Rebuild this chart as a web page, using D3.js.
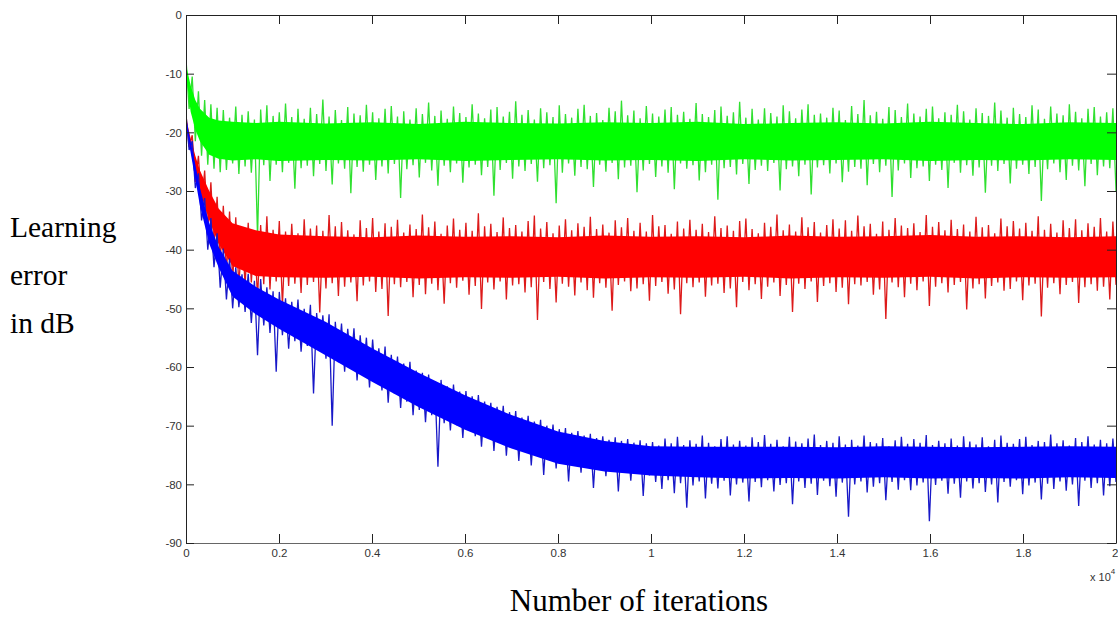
<!DOCTYPE html>
<html>
<head>
<meta charset="utf-8">
<script src="https://cdn.jsdelivr.net/npm/d3@7"></script>
<style>
  body { margin: 0; background: #fff; }
  svg { display: block; }
  .tick text { font-family: Arial, "Liberation Sans", sans-serif; font-size: 11.5px; }
  .side-label { font-family: "Times New Roman", "Liberation Serif", serif; fill: #000; }
</style>
</head>
<body>
<svg width="1118" height="619"></svg>
<script>
// dense core of each curve, sampled at these iterations (x 10^4)
const coreX = [0, 0.01, 0.02, 0.03, 0.05, 0.07, 0.1, 0.15, 0.2, 0.3, 0.4, 0.5, 0.6, 0.7,
  0.8, 0.9, 1.0, 1.1, 1.2, 1.3, 1.4, 1.5, 1.6, 1.7, 1.8, 1.9, 2.0];

const greenCoreHi = [-8.5, -12, -14.5, -16, -17.5, -18, -18.2, -18.4, -18.2, -18.5, -18.3, -18.6, -18.2, -18.4,
  -18.5, -18.3, -18.4, -18.2, -18.6, -18.4, -18.3, -18.5, -18.2, -18.4, -18.6, -18.3, -18.4];
const greenCoreLo = [-10, -16.5, -19.5, -21.5, -23.8, -24.5, -24.8, -24.6, -24.9, -24.7, -24.8, -24.6, -24.9, -24.7,
  -24.6, -24.8, -24.7, -24.9, -24.6, -24.8, -24.7, -24.6, -24.9, -24.7, -24.8, -24.6, -24.7];
const redCoreHi = [-17.5, -21, -24, -26.5, -30, -33, -35.5, -36.7, -37.4, -37.7, -37.9, -37.6, -37.8, -37.7,
  -37.9, -37.6, -37.8, -37.7, -37.9, -37.6, -37.8, -37.7, -37.5, -37.8, -37.7, -37.9, -37.7];
const redCoreLo = [-18.5, -23, -27, -30, -35, -39, -42.8, -44.5, -44.7, -44.8, -44.6, -44.9, -44.7, -44.8,
  -44.6, -44.9, -44.7, -44.8, -44.6, -44.9, -44.7, -44.8, -44.6, -44.9, -44.7, -44.8, -44.7];
const blueCoreHi = [-17.5, -21.5, -25.5, -29.5, -35.5, -39.5, -43.6, -46.3, -48.5, -52.3, -56.8, -61.0, -64.8, -68.2,
  -71.0, -72.6, -73.5, -73.6, -73.6, -73.6, -73.7, -73.5, -73.6, -73.7, -73.6, -73.5, -73.6];
const blueCoreLo = [-18.5, -23.5, -28, -32.5, -39, -43, -48, -51, -53.5, -58, -62.5, -66.8, -70.7, -73.9,
  -76.5, -77.8, -78.5, -78.8, -79, -78.9, -79, -78.8, -79, -78.9, -79, -78.8, -78.9];

// noisy trace, 300 evenly spaced samples over 0..2 x 10^4 iterations (dB)
const greenTrace = [-7.5, -16, -10.5, -21.5, -13, -24, -14.5, -25.5, -15.2, -26.2, -15.8, -26.8,
  -16.2, -26.4, -17.5, -25.3, -15.6, -27.1, -17.0, -25.8, -16.4, -26.9, -17.8, -37.8, -16.1, -25.6, -15.4, -28.3,
  -17.2, -25.5, -16.6, -26.8, -15.1, -25.2, -17.4, -29.6, -16.0, -26.1, -17.7, -25.7, -15.8, -27.5, -16.9, -25.4,
  -14.4, -26.6, -17.3, -28.9, -16.2, -25.3, -17.9, -26.2, -15.7, -30.4, -16.8, -25.9, -17.1, -26.7, -15.3, -25.5,
  -16.6, -28.1, -17.6, -25.8, -16.0, -27.0, -15.5, -25.4, -17.3, -31.2, -16.4, -26.3, -17.8, -25.6, -15.9, -27.7,
  -16.9, -25.2, -14.9, -26.5, -17.2, -29.1, -16.3, -25.7, -17.7, -26.8, -15.6, -25.3, -16.7, -28.6, -17.4, -26.0,
  -15.2, -25.5, -16.8, -27.3, -17.6, -25.9, -16.1, -30.8, -15.7, -26.4, -17.3, -25.2, -16.5, -27.9, -14.7, -25.8,
  -17.0, -26.6, -16.2, -25.4, -17.8, -28.4, -15.9, -26.1, -16.6, -25.6, -17.4, -32.1, -15.4, -26.9, -16.9, -25.3,
  -17.5, -27.4, -16.0, -25.9, -15.3, -26.3, -17.2, -29.3, -16.7, -25.5, -17.9, -26.7, -15.8, -25.2, -16.4, -28.0,
  -14.6, -26.0, -17.1, -25.7, -16.3, -30.2, -17.6, -26.5, -15.5, -25.4, -16.8, -27.6, -17.3, -25.8, -16.1, -26.9,
  -15.7, -29.7, -17.0, -25.3, -16.5, -26.2, -17.7, -25.6, -15.0, -28.2, -16.9, -26.8, -17.4, -25.5, -16.2, -31.5,
  -15.6, -26.1, -17.2, -25.9, -16.6, -27.2, -14.8, -25.4, -17.5, -28.8, -16.0, -26.4, -17.8, -25.7, -15.9, -26.6,
  -16.7, -25.2, -17.3, -29.9, -15.4, -26.3, -16.4, -25.8, -17.6, -27.5, -16.1, -25.5, -15.2, -30.6, -17.0, -26.0,
  -16.8, -25.6, -17.5, -27.0, -15.8, -25.3, -16.3, -28.5, -17.9, -26.7, -15.5, -25.9, -16.9, -26.2, -14.5, -29.0,
  -17.1, -25.4, -16.5, -26.8, -17.7, -25.7, -15.7, -31.0, -16.2, -26.5, -17.4, -25.3, -15.1, -27.8, -16.8, -26.1,
  -17.3, -25.8, -16.0, -28.3, -15.6, -25.5, -17.6, -26.4, -16.6, -29.5, -17.0, -25.2, -15.3, -26.9, -16.4, -25.6,
  -17.8, -27.4, -15.9, -26.0, -16.7, -30.3, -17.2, -25.7, -14.9, -26.6, -16.3, -25.4, -17.5, -28.7, -15.8, -26.2,
  -16.9, -25.5, -17.4, -27.1, -15.4, -25.9, -16.1, -31.7, -17.7, -26.3, -15.6, -25.3, -16.8, -26.8, -17.1, -28.1,
  -15.2, -25.7, -16.5, -26.5, -17.6, -29.2, -16.0, -25.4, -15.7, -27.3, -17.3, -25.8, -16.6, -26.1, -15.9, -30.0];

const redTrace = [-17, -22.5, -20.5, -28.5, -24, -32.5, -26.5, -36.5, -28.5, -39.5, -31, -42, -32.5, -44,
  -33.5, -45.5, -34.5, -46.5,
  -36.2, -46.1, -35.4, -45.6, -37.0, -48.3, -35.8, -45.9, -34.3, -46.8, -36.6, -45.4, -35.1, -49.5, -36.9, -46.2,
  -35.6, -45.8, -37.2, -47.4, -34.8, -46.0, -36.4, -45.5, -35.9, -50.7, -36.8, -46.6, -34.1, -45.7, -36.0, -47.9,
  -35.3, -46.3, -36.7, -45.6, -37.4, -48.8, -35.0, -46.1, -36.3, -45.4, -34.6, -47.2, -36.9, -46.7, -35.5, -51.3,
  -36.1, -45.9, -34.9, -46.4, -37.1, -45.5, -35.7, -48.1, -36.5, -46.0, -34.0, -47.6, -36.2, -45.8, -35.2, -46.9,
  -37.3, -49.2, -35.9, -45.7, -34.7, -46.5, -36.6, -45.3, -35.4, -47.7, -36.8, -46.2, -33.8, -50.1, -36.0, -45.6,
  -35.6, -46.8, -37.0, -45.4, -34.5, -48.5, -36.3, -46.1, -35.8, -45.9, -36.9, -47.3, -35.1, -46.4, -34.2, -52.0,
  -36.4, -45.5, -35.3, -46.7, -37.2, -49.0, -35.9, -45.8, -34.8, -46.3, -36.7, -47.8, -35.5, -45.6, -36.1, -46.9,
  -34.4, -48.2, -36.5, -45.7, -35.7, -46.5, -37.1, -50.4, -35.0, -46.0, -36.2, -45.4, -34.6, -47.1, -36.8, -46.6,
  -35.4, -45.9, -36.9, -48.7, -34.1, -46.2, -36.0, -45.5, -35.8, -47.5, -37.3, -46.8, -35.2, -51.0, -36.4, -45.7,
  -34.9, -46.4, -36.6, -45.6, -35.6, -48.0, -37.0, -46.1, -34.3, -45.8, -36.3, -47.4, -35.9, -46.6, -36.8, -49.8,
  -35.1, -45.5, -34.7, -46.9, -36.5, -45.9, -37.2, -48.4, -35.4, -46.3, -36.1, -45.6, -34.0, -47.9, -36.7, -46.0,
  -35.7, -50.6, -36.9, -45.8, -34.5, -46.7, -36.2, -45.4, -35.3, -48.9, -37.1, -46.2, -35.8, -45.7, -34.8, -47.2,
  -36.4, -46.5, -35.0, -49.3, -36.8, -45.9, -34.2, -46.1, -36.0, -45.5, -35.6, -47.7, -37.3, -46.8, -35.2, -51.8,
  -36.6, -45.6, -34.6, -46.4, -35.9, -48.1, -36.3, -45.8, -35.5, -46.9, -37.0, -45.4, -34.1, -49.6, -36.1, -46.3,
  -35.3, -45.7, -36.7, -47.3, -34.9, -46.0, -36.5, -45.5, -35.7, -50.2, -36.9, -46.6, -34.4, -45.9, -36.2, -48.3,
  -35.8, -46.2, -37.2, -45.6, -34.7, -47.0, -36.0, -46.7, -35.1, -45.4, -36.4, -48.6, -35.4, -46.1, -36.8, -45.8,
  -34.3, -51.4, -36.6, -46.5, -35.6, -45.7, -37.1, -47.6, -35.0, -46.0, -36.3, -45.5, -34.8, -49.1, -36.7, -46.4,
  -35.5, -45.9, -36.1, -47.0, -34.6, -46.3, -36.9, -48.5, -35.2, -46.0];

const blueTrace = [-17, -23, -21.5, -29.5, -27, -35, -31.2, -40, -34.6, -43, -37.2, -46.5, -39.8, -48.5,
  -41.5, -50,
  -43.0, -49.8, -44.2, -50.6, -44.1, -52.5, -45.3, -58.0, -45.0, -52.9, -46.4, -54.2, -47.1, -60.8,
  -47.2, -54.6, -48.3, -56.9, -48.9, -55.6, -48.5, -57.4, -50.1, -56.4, -49.4, -64.5, -50.8, -57.1,
  -51.2, -58.6, -51.0, -70.0, -52.3, -59.2, -52.6, -60.8, -53.5, -59.9, -53.4, -62.3, -54.6, -61.1,
  -55.0, -63.5, -55.3, -62.4, -56.8, -64.0, -56.5, -66.1, -57.9, -64.5, -58.2, -67.0, -59.4, -65.9,
  -59.1, -68.2, -60.6, -67.3, -61.0, -69.4, -61.3, -68.2, -62.4, -77.0, -62.2, -69.6, -63.3, -70.8,
  -63.0, -69.9, -64.2, -72.1, -64.1, -70.7, -65.0, -71.8, -64.8, -73.6, -65.9, -72.0, -66.1, -74.3,
  -66.8, -72.9, -66.6, -75.1, -67.7, -73.5, -67.5, -76.0, -68.6, -74.2, -68.3, -76.8, -69.3, -75.0,
  -69.0, -78.4, -70.0, -75.6, -69.8, -77.3, -70.6, -76.1, -70.4, -79.5, -71.2, -76.5, -70.9, -78.0,
  -71.7, -76.9, -71.4, -80.6, -72.1, -77.2, -71.8, -78.6, -72.4, -77.6, -72.0, -81.2, -72.6, -78.0,
  -72.3, -79.4, -72.9, -78.2, -72.5, -82.0, -73.0, -78.5,
  -72.8, -79.6, -73.4, -80.8, -72.2, -79.3, -73.0, -81.5, -71.9, -79.8, -73.3, -84.0, -72.5, -80.2, -73.1, -79.5,
  -71.7, -82.4, -72.9, -79.9, -73.5, -80.7, -72.3, -79.4, -71.8, -81.9, -73.2, -80.0, -72.6, -79.7, -73.4, -82.9,
  -72.0, -79.6, -72.8, -80.5, -71.6, -79.3, -73.1, -81.2, -72.4, -80.1, -73.5, -79.8, -71.9, -83.4, -72.7, -79.5,
  -73.0, -80.6, -72.2, -79.9, -71.5, -81.8, -73.3, -79.4, -72.6, -80.3, -72.9, -82.1, -71.8, -79.7, -73.2, -85.5,
  -72.4, -80.0, -73.4, -79.5, -71.7, -81.4, -72.8, -80.4, -73.0, -79.8, -72.1, -82.7, -73.5, -79.6, -72.5, -80.9,
  -71.9, -79.3, -73.1, -81.0, -72.3, -80.2, -72.9, -79.7, -71.6, -86.3, -73.3, -80.1, -72.6, -79.4, -73.0, -81.6,
  -72.2, -79.9, -73.4, -82.3, -71.8, -79.5, -72.7, -80.7, -73.2, -79.8, -72.0, -81.3, -73.5, -80.0, -72.4, -83.1,
  -71.7, -79.6, -72.9, -80.4, -73.1, -79.3, -72.3, -81.7, -71.9, -80.2, -73.3, -79.7, -72.6, -82.6, -72.8, -79.9,
  -71.5, -80.8, -73.0, -79.5, -72.5, -81.1, -73.4, -80.0, -72.1, -83.7, -72.8, -79.4, -71.8, -80.6, -73.2, -79.8,
  -72.4, -81.9, -73.0, -80.3, -72.2, -79.6];

const xTicks = [0, 0.2, 0.4, 0.6, 0.8, 1, 1.2, 1.4, 1.6, 1.8, 2];
const yTicks = [0, -10, -20, -30, -40, -50, -60, -70, -80, -90];

const series = [
  { name: 'green', hi: greenCoreHi, lo: greenCoreLo, trace: greenTrace, fill: '#00ff00', edge: '#30e030' },
  { name: 'red', hi: redCoreHi, lo: redCoreLo, trace: redTrace, fill: '#ff0000', edge: '#dd1a1a' },
  { name: 'blue', hi: blueCoreHi, lo: blueCoreLo, trace: blueTrace, fill: '#0000ff', edge: '#1818c8' },
];

const PLOT = { left: 186, right: 1116, top: 15, bottom: 543 };

const x = d3.scaleLinear().domain([0, 2]).range([PLOT.left, PLOT.right]);
const y = d3.scaleLinear().domain([-90, 0]).range([PLOT.bottom, PLOT.top]);

const svg = d3.select('svg');

svg.append('defs').append('clipPath').attr('id', 'plot-clip')
  .append('rect')
  .attr('x', PLOT.left).attr('y', PLOT.top)
  .attr('width', PLOT.right - PLOT.left).attr('height', PLOT.bottom - PLOT.top);

const plot = svg.append('g').attr('clip-path', 'url(#plot-clip)');

series.forEach((s) => {
  const n = s.trace.length;
  const g = plot.append('g').attr('class', 'series-' + s.name);

  g.append('path')
    .datum(s.trace)
    .attr('d', d3.line().x((d, i) => x((i * 2) / (n - 1))).y((d) => y(d)))
    .attr('fill', 'none')
    .attr('stroke', s.edge)
    .attr('stroke-width', 1.3);

  g.append('path')
    .datum(coreX.map((v, i) => ({ v, hi: s.hi[i], lo: s.lo[i] })))
    .attr('d', d3.area().x((d) => x(d.v)).y0((d) => y(d.lo)).y1((d) => y(d.hi)))
    .attr('fill', s.fill);
});

// axes: MATLAB-style box with inward ticks
const axes = svg.append('g');

axes.append('g')
  .attr('transform', `translate(0, ${PLOT.bottom})`)
  .call(d3.axisBottom(x).tickValues(xTicks).tickSizeInner(-9).tickSizeOuter(0).tickPadding(6)
    .tickFormat((d) => String(d)))
  .call((g) => g.select('.domain').attr('stroke', '#666'))
  .call((g) => g.selectAll('.tick text').filter((d) => d === 2)
    .attr('text-anchor', 'end').attr('x', 2));

axes.append('g')
  .attr('transform', `translate(0, ${PLOT.top})`)
  .call(d3.axisTop(x).tickValues(xTicks).tickSizeInner(-9).tickSizeOuter(0).tickFormat(''));

axes.append('g')
  .attr('transform', `translate(${PLOT.left}, 0)`)
  .call(d3.axisLeft(y).tickValues(yTicks).tickSizeInner(-8).tickSizeOuter(0).tickPadding(4)
    .tickFormat((d) => String(d)));

axes.append('g')
  .attr('transform', `translate(${PLOT.right}, 0)`)
  .call(d3.axisRight(y).tickValues(yTicks).tickSizeInner(-9).tickSizeOuter(0).tickFormat(''));

axes.selectAll('.domain').filter(function () { return this.getAttribute('stroke') !== '#666'; })
  .attr('stroke', '#222');
axes.selectAll('.tick line').attr('stroke', '#222');
axes.selectAll('.tick text').attr('fill', '#333');

// exponent note
const expo = svg.append('text')
  .attr('x', 1090).attr('y', 581)
  .style('font-family', 'Arial, "Liberation Sans", sans-serif')
  .style('font-size', '11px')
  .attr('fill', '#333');
expo.append('tspan').text('x 10');
expo.append('tspan').attr('dy', -7).style('font-size', '8px').text('4');

// axis titles
const sideLabels = ['Learning', 'error', 'in dB'];
svg.selectAll('.side-label.y')
  .data(sideLabels)
  .enter()
  .append('text')
  .attr('class', 'side-label y')
  .attr('x', 10)
  .attr('y', (d, i) => 237 + i * 48)
  .style('font-size', '29.5px')
  .text((d) => d);

svg.append('text')
  .attr('class', 'side-label')
  .attr('x', 639)
  .attr('y', 611)
  .attr('text-anchor', 'middle')
  .style('font-size', '31px')
  .text('Number of iterations');
</script>
</body>
</html>
